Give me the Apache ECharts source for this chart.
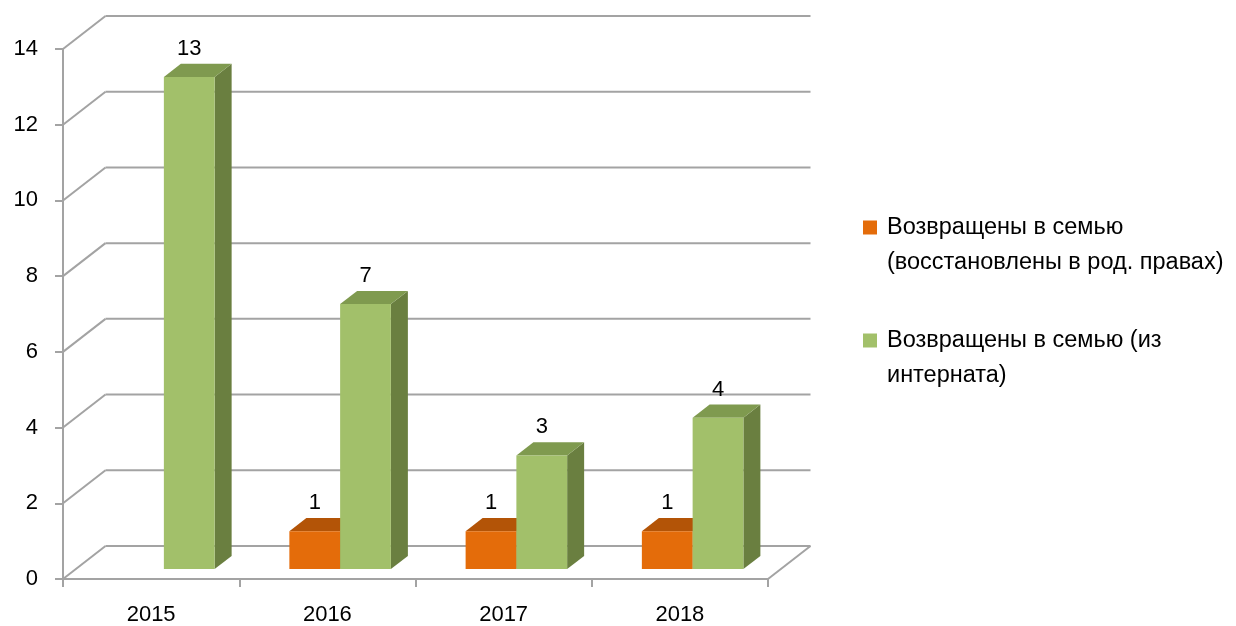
<!DOCTYPE html>
<html>
<head>
<meta charset="utf-8">
<script src="https://cdn.jsdelivr.net/npm/echarts@6/dist/echarts.min.js"></script>
<style>
  html, body { margin: 0; padding: 0; background: #fff; }
  #chart { width: 1236px; height: 626px; }
</style>
</head>
<body>
<div id="chart"></div>
<script>
const years = ['2015', '2016', '2017', '2018'];
const restored = [null, 1, 1, 1];
const fromInternat = [13, 7, 3, 4];
const yTicks = [0, 2, 4, 6, 8, 10, 12, 14];
const seriesNames = [
  'Возвращены в семью\n(восстановлены в род. правах)',
  'Возвращены в семью (из\nинтерната)'
];

// 3d look: full depth of the box and the slice where the bars stand
const DX = 42.5, DY = -33;
const FRONT = 0.3, DEPTH = 0.4;
const BAR_W = 0.288;
const FONT = '"Liberation Sans", Arial, sans-serif';
const GRID_COLOR = '#A3A3A3';

const myChart = echarts.init(document.getElementById('chart'));

function wallItem(params, api) {
  const cs = params.coordSys;
  const p = api.coord([0, api.value(1)]);
  const x0 = cs.x, y = p[1];
  const children = [
    { type: 'line', shape: { x1: x0, y1: y, x2: x0 + DX, y2: y + DY },
      style: { stroke: GRID_COLOR, lineWidth: 2 } },
    { type: 'line', shape: { x1: x0 + DX, y1: y + DY, x2: x0 + cs.width + DX, y2: y + DY },
      style: { stroke: GRID_COLOR, lineWidth: 2 } }
  ];
  if (api.value(1) === 0) {
    children.push({ type: 'line',
      shape: { x1: x0 + cs.width, y1: y, x2: x0 + cs.width + DX, y2: y + DY },
      style: { stroke: GRID_COLOR, lineWidth: 2 } });
  }
  return { type: 'group', children: children };
}

function barRenderer(side, colors) {
  return function (params, api) {
    const v = api.value(1);
    if (v == null || isNaN(v)) return;
    const base = api.coord([api.value(0), 0]);
    const top = api.coord([api.value(0), v]);
    const bw = api.size([1, 0])[0] * BAR_W;
    const sx = DX * FRONT, sy = DY * FRONT;
    const ddx = DX * DEPTH, ddy = DY * DEPTH;
    const x0 = (side < 0 ? base[0] - bw : base[0]) + sx;
    const x1 = x0 + bw;
    const ty = top[1] + sy, by = base[1] + sy;
    return {
      type: 'group',
      children: [
        { type: 'polygon',
          shape: { points: [[x1, ty], [x1 + ddx, ty + ddy], [x1 + ddx, by + ddy], [x1, by]] },
          style: { fill: colors.side } },
        { type: 'polygon',
          shape: { points: [[x0, ty], [x1, ty], [x1 + ddx, ty + ddy], [x0 + ddx, ty + ddy]] },
          style: { fill: colors.top } },
        { type: 'rect', shape: { x: x0, y: ty, width: bw, height: by - ty },
          style: { fill: colors.front } },
        { type: 'text', x: (x0 + x1) / 2, y: ty + ddy - 4,
          style: { text: String(v), fill: '#000', font: '22px ' + FONT,
                   align: 'center', verticalAlign: 'bottom' } }
      ]
    };
  };
}

myChart.setOption({
  animation: false,
  grid: { left: 63, right: 468, top: 49, bottom: 47, containLabel: false, outerBoundsMode: 'none' },
  legend: {
    orient: 'vertical',
    left: 858,
    top: 170,
    icon: 'rect',
    itemWidth: 14,
    itemHeight: 14,
    itemGap: 8,
    data: seriesNames,
    // leading blank line keeps the marker level with the first text line
    formatter: name => '\n' + name,
    textStyle: { fontSize: 23.5, fontFamily: FONT, color: '#000', lineHeight: 35, padding: [0, 0, 0, 5] }
  },
  xAxis: {
    type: 'category',
    data: years,
    boundaryGap: true,
    axisLine: { lineStyle: { color: GRID_COLOR, width: 2 } },
    axisTick: { show: true, length: 8, lineStyle: { color: GRID_COLOR, width: 2 } },
    axisLabel: { fontSize: 22, fontFamily: FONT, color: '#000', margin: 25 },
    splitLine: { show: false }
  },
  yAxis: {
    type: 'value',
    min: 0,
    max: 14,
    interval: 2,
    axisLine: { show: true, lineStyle: { color: GRID_COLOR, width: 2 } },
    axisTick: { show: true, length: 8, lineStyle: { color: GRID_COLOR, width: 2 } },
    axisLabel: { fontSize: 22, fontFamily: FONT, color: '#000', margin: 25 },
    splitLine: { show: false }
  },
  series: [
    {
      name: 'walls',
      type: 'custom',
      clip: false,
      silent: true,
      z: 1,
      renderItem: wallItem,
      data: yTicks.map(t => [0, t])
    },
    {
      name: seriesNames[0],
      type: 'custom',
      clip: false,
      z: 2,
      itemStyle: { color: '#E46C0A' },
      renderItem: barRenderer(-1, { front: '#E46C0A', side: '#A34D06', top: '#B35407' }),
      data: restored.map((v, i) => [i, v])
    },
    {
      name: seriesNames[1],
      type: 'custom',
      clip: false,
      z: 3,
      itemStyle: { color: '#A2C06A' },
      renderItem: barRenderer(1, { front: '#A2C06A', side: '#6A7F40', top: '#7F9A4F' }),
      data: fromInternat.map((v, i) => [i, v])
    }
  ]
});

window.addEventListener('resize', function () {
  myChart.resize();
});
</script>
</body>
</html>
